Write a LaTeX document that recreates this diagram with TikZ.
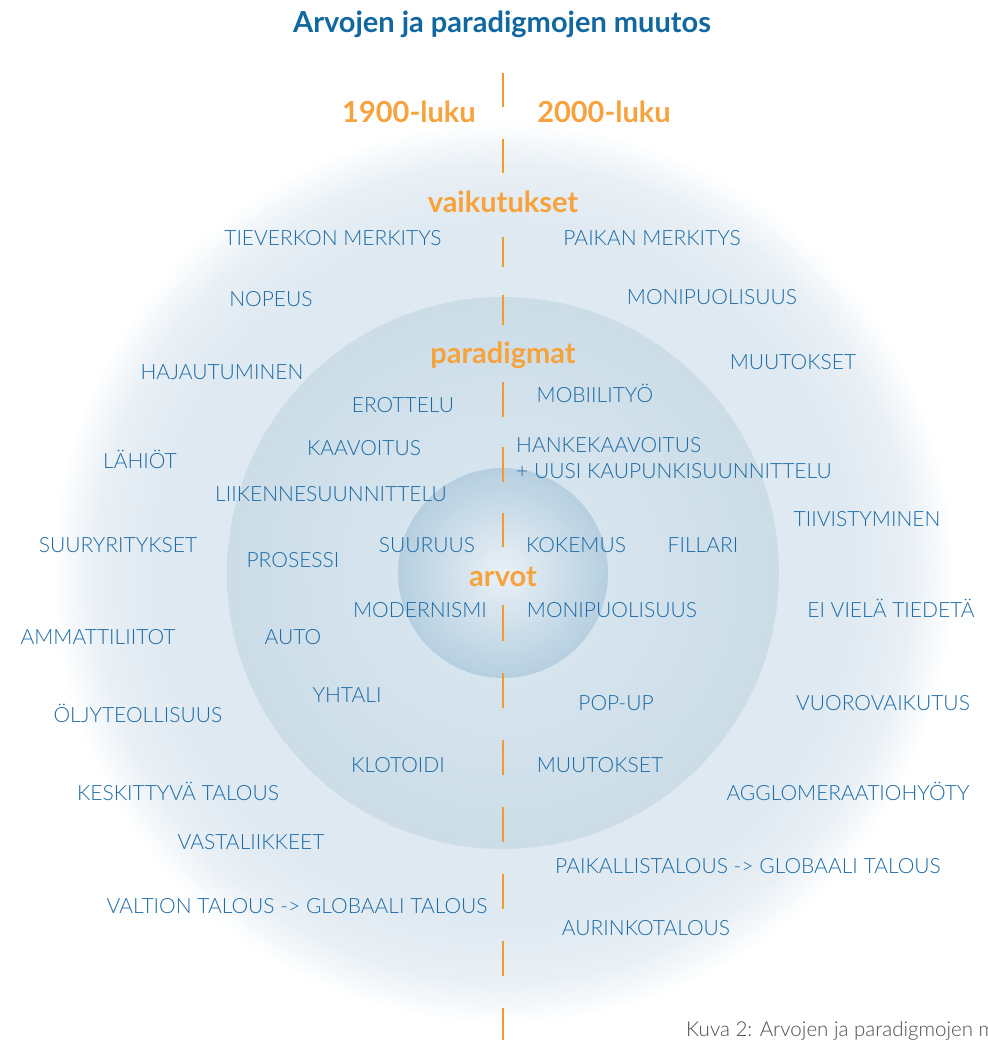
\documentclass[tikz,border=0pt]{standalone}
\usepackage{fontspec}
\setmainfont{Lato}
\newfontfamily\lightfont{Lato Light}

\definecolor{titleblue}{HTML}{11679F}
\definecolor{itemblue}{HTML}{1C6BA5}
\definecolor{headorange}{HTML}{F7A33D}
\definecolor{lineorange}{HTML}{F29A2B}
\definecolor{captiongray}{HTML}{4D4D4D}
\definecolor{halocol}{HTML}{DFE9F1}
\definecolor{ringin}{HTML}{DCE8F0}
\definecolor{ringout}{HTML}{CCDDE8}
\definecolor{corein}{HTML}{EAF1F7}
\definecolor{coreout}{HTML}{B6CFE0}

% soft outer halo, flat middle ring, bright core
\pgfdeclareradialshading{halo}{\pgfpointorigin}{color(0bp)=(halocol); color(19bp)=(halocol); color(22.5bp)=(halocol!70!white); color(25bp)=(white); color(50bp)=(white)}
\pgfdeclareradialshading{ring}{\pgfpointorigin}{color(0bp)=(ringin); color(25bp)=(ringout); color(50bp)=(ringout)}
\pgfdeclareradialshading{core}{\pgfpointorigin}{color(0bp)=(corein); color(25bp)=(coreout); color(50bp)=(coreout)}

\begin{document}
\begin{tikzpicture}[
    x = 1pt, y = -1pt,
    item/.style = {text = itemblue, inner sep = 0pt, anchor = base,
                   font = \lightfont\fontsize{21}{25}\selectfont},
    head/.style = {text = headorange, inner sep = 0pt, anchor = base,
                   font = \bfseries\fontsize{29}{34}\selectfont},
    divider/.style = {draw = lineorange, line width = 2.6pt}
]

\useasboundingbox (0,0) rectangle (987,1040);
\fill[white] (0,0) rectangle (987,1040);

% Circles
\shade[shading = halo] (503,573) circle[radius = 452pt];
\shade[shading = ring] (503,573) circle[radius = 276pt];
\shade[shading = core] (503,573) circle[radius = 105pt];

% Divider
\foreach \a/\b in {73/107, 139/173, 237/267, 295/325, 382/417, 447/482,
                   513/547, 605/641, 673/708, 740/775, 807/842, 874/909,
                   941/976, 1008/1040}
    \draw[divider] (503,\a) -- (503,\b);

% Headings
\node[head, text = titleblue] (title)    at (502,33)  {Arvojen ja paradigmojen muutos};
\node[head]                   (luku1900) at (409,123) {1900-luku};
\node[head]                   (luku2000) at (604,123) {2000-luku};
\node[head]                   (vaikutukset) at (503,213) {vaikutukset};
\node[head]                   (paradigmat)  at (503,363) {paradigmat};
\node[head]                   (arvot)       at (503,586) {arvot};

% 1900-luku
\node[item] (tieverkko)     at (333,246) {TIEVERKON MERKITYS};
\node[item] (nopeus)        at (271,306) {NOPEUS};
\node[item] (hajautuminen)  at (222,379) {HAJAUTUMINEN};
\node[item] (erottelu)      at (403,412) {EROTTELU};
\node[item] (kaavoitus)     at (364,455) {KAAVOITUS};
\node[item] (lahiot)        at (140,468) {LÄHIÖT};
\node[item] (liikenne)      at (331,501) {LIIKENNESUUNNITTELU};
\node[item] (suuryritykset) at (118,552) {SUURYRITYKSET};
\node[item] (prosessi)      at (293,567) {PROSESSI};
\node[item] (suuruus)       at (427,552) {SUURUUS};
\node[item] (modernismi)    at (420,617) {MODERNISMI};
\node[item] (ammattiliitot) at (98,644)  {AMMATTILIITOT};
\node[item] (auto)          at (293,644) {AUTO};
\node[item] (yhtali)        at (347,702) {YHTALI};
\node[item] (oljy)          at (138,722) {ÖLJYTEOLLISUUS};
\node[item] (klotoidi)      at (398,772) {KLOTOIDI};
\node[item] (keskittyva)    at (178,800) {KESKITTYVÄ TALOUS};
\node[item] (vastaliikkeet) at (251,849) {VASTALIIKKEET};
\node[item] (valtionTalous) at (297,913) {VALTION TALOUS -> GLOBAALI TALOUS};

% 2000-luku
\node[item] (paikka)          at (652,246) {PAIKAN MERKITYS};
\node[item] (monipuolisuusV)  at (712,305) {MONIPUOLISUUS};
\node[item] (muutoksetV)      at (793,369) {MUUTOKSET};
\node[item] (mobiilityo)      at (595,402) {MOBIILITYÖ};
\node[item, anchor = base west] (hankekaavoitus) at (516,452) {HANKEKAAVOITUS};
\node[item, anchor = base west] (uusiKaupunki)   at (516,478) {+ UUSI KAUPUNKISUUNNITTELU};
\node[item] (tiivistyminen)   at (867,526) {TIIVISTYMINEN};
\node[item] (kokemus)         at (576,552) {KOKEMUS};
\node[item] (fillari)         at (703,552) {FILLARI};
\node[item] (monipuolisuusA)  at (612,617) {MONIPUOLISUUS};
\node[item] (eiVielaTiedeta)  at (891,617) {EI VIELÄ TIEDETÄ};
\node[item] (popUp)           at (616,710) {POP-UP};
\node[item] (vuorovaikutus)   at (883,710) {VUOROVAIKUTUS};
\node[item] (muutoksetP)      at (600,772) {MUUTOKSET};
\node[item] (agglomeraatio)   at (848,800) {AGGLOMERAATIOHYÖTY};
\node[item] (paikallistalous) at (748,873) {PAIKALLISTALOUS -> GLOBAALI TALOUS};
\node[item] (aurinkotalous)   at (646,935) {AURINKOTALOUS};

% Caption, runs off the page edge
\node[item, anchor = base west, text = captiongray,
      font = \lightfont\fontsize{20.5}{24}\selectfont] (kuva) at (686,1036)
      {Kuva 2: Arvojen ja paradigmojen muutos};

\end{tikzpicture}
\end{document}
